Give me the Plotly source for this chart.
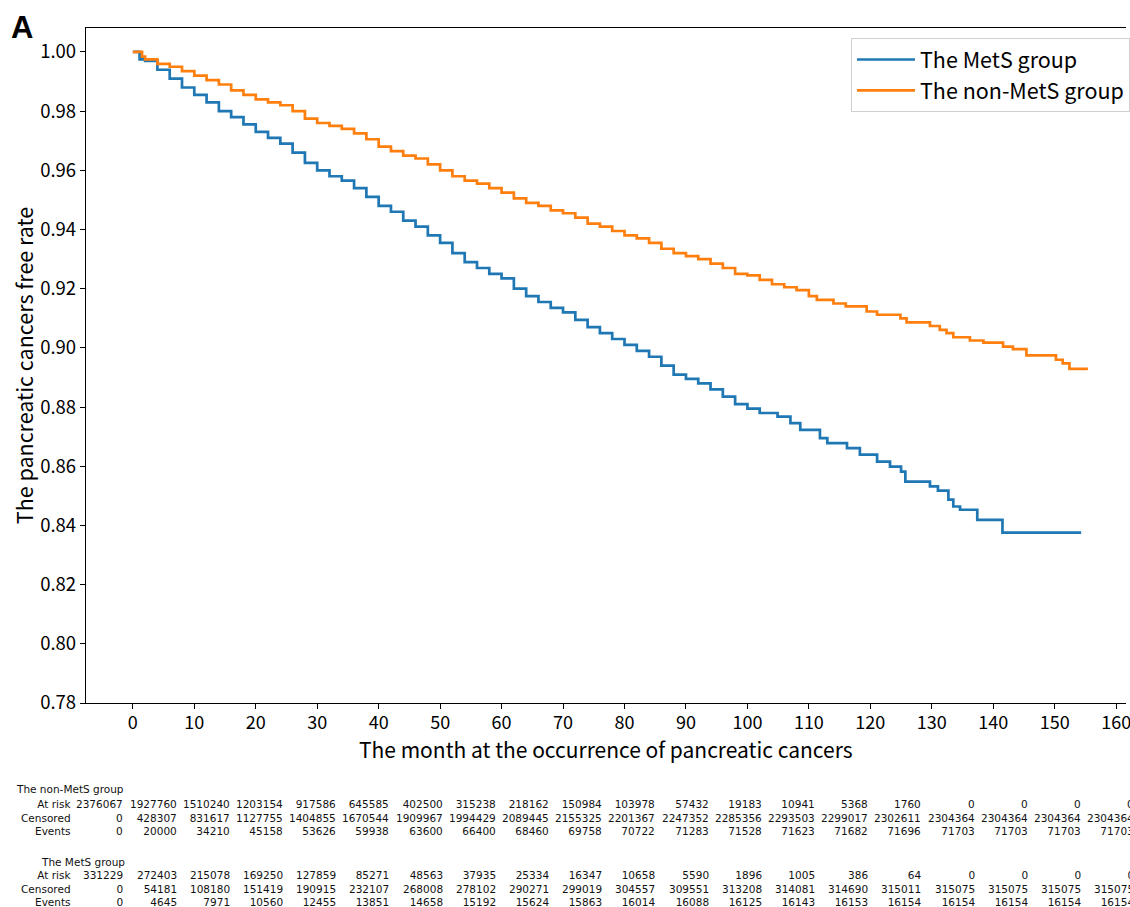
import plotly.graph_objects as go

# ---------------- data ----------------
mets_t = [0, 1.1, 2, 4, 6, 8, 10, 12, 14, 16, 18, 20, 22, 24, 26, 28, 30, 32, 34, 36, 38,
          40, 42, 44, 46, 48, 50, 52, 54, 56, 58, 60, 62, 64, 66, 68, 70, 72, 74, 76, 78,
          80, 82, 84, 86, 88, 90, 92, 94, 96, 98, 100, 102, 104.9, 107.0, 108.6, 111.8,
          113.0, 116.2, 118.3, 121.1, 123.2, 125.0, 125.7, 129.7, 131.0, 132.7, 133.5,
          134.6, 137.4, 141.5, 154.3]
mets_s = [1.0, 0.9975, 0.997, 0.994, 0.991, 0.988, 0.9855, 0.983, 0.980, 0.978, 0.9755,
          0.973, 0.971, 0.969, 0.966, 0.9625, 0.960, 0.958, 0.9565, 0.954, 0.951, 0.948,
          0.946, 0.943, 0.941, 0.938, 0.9355, 0.932, 0.929, 0.927, 0.925, 0.9235, 0.920,
          0.9175, 0.9155, 0.9135, 0.912, 0.9095, 0.907, 0.905, 0.903, 0.901, 0.899, 0.897,
          0.894, 0.891, 0.8895, 0.888, 0.886, 0.8835, 0.881, 0.8795, 0.878, 0.8768, 0.8746,
          0.8723, 0.8695, 0.8678, 0.8661, 0.8639, 0.8616, 0.8599, 0.8582, 0.8548, 0.8532,
          0.8518, 0.8487, 0.8464, 0.8453, 0.8419, 0.8376, 0.8376]

non_t = [0, 1.5, 2, 4, 6, 8, 10, 12, 14, 16, 18, 20, 22, 24, 26, 28, 30, 32, 34, 36, 38,
         40, 42, 44, 46, 48, 50, 52, 54, 56, 58, 60, 62, 64, 66, 68, 70, 72, 74, 76, 78,
         80, 82, 84, 86, 88, 90, 92, 94, 96, 98, 100, 102, 104, 106, 108, 110, 111.3, 114,
         116, 119.4, 121.1, 124.9, 125.9, 129.7, 131.3, 132.4, 133.5, 136.2, 138.4, 141.6,
         143.2, 145.4, 150.2, 151.3, 152.4, 155.4]
non_s = [1.0, 0.9984, 0.9975, 0.996, 0.995, 0.9935, 0.992, 0.9905, 0.989, 0.987, 0.9855,
         0.984, 0.983, 0.982, 0.980, 0.9775, 0.976, 0.975, 0.974, 0.9725, 0.9705, 0.968,
         0.9665, 0.965, 0.964, 0.962, 0.960, 0.958, 0.9565, 0.9555, 0.954, 0.9525, 0.9505,
         0.949, 0.948, 0.9465, 0.9455, 0.944, 0.942, 0.941, 0.9395, 0.938, 0.937, 0.9355,
         0.9335, 0.932, 0.931, 0.930, 0.9285, 0.927, 0.925, 0.9245, 0.923, 0.9215, 0.9205,
         0.9195, 0.9175, 0.9162, 0.915, 0.914, 0.9123, 0.9112, 0.910, 0.9086, 0.9074,
         0.9061, 0.905, 0.9036, 0.9025, 0.9018, 0.9004, 0.8996, 0.8975, 0.896, 0.8948,
         0.8929, 0.8929]

# at-risk table
non_at_risk = [2376067, 1927760, 1510240, 1203154, 917586, 645585, 402500, 315238, 218162,
               150984, 103978, 57432, 19183, 10941, 5368, 1760, 0, 0, 0, 0]
non_censored = [0, 428307, 831617, 1127755, 1404855, 1670544, 1909967, 1994429, 2089445,
                2155325, 2201367, 2247352, 2285356, 2293503, 2299017, 2302611, 2304364,
                2304364, 2304364, 2304364]
non_events = [0, 20000, 34210, 45158, 53626, 59938, 63600, 66400, 68460, 69758, 70722,
              71283, 71528, 71623, 71682, 71696, 71703, 71703, 71703, 71703]

mets_at_risk = [331229, 272403, 215078, 169250, 127859, 85271, 48563, 37935, 25334, 16347,
                10658, 5590, 1896, 1005, 386, 64, 0, 0, 0, 0]
mets_censored = [0, 54181, 108180, 151419, 190915, 232107, 268008, 278102, 290271, 299019,
                 304557, 309551, 313208, 314081, 314690, 315011, 315075, 315075, 315075,
                 315075]
mets_events = [0, 4645, 7971, 10560, 12455, 13851, 14658, 15192, 15624, 15863, 16014,
               16088, 16125, 16143, 16153, 16154, 16154, 16154, 16154, 16154]

row_labels = ["At risk", "Censored", "Events"]
x_ticks = list(range(0, 161, 10))
y_ticks = [0.78, 0.80, 0.82, 0.84, 0.86, 0.88, 0.90, 0.92, 0.94, 0.96, 0.98, 1.00]

# ---------------- layout geometry ----------------
W, H = 1130, 907
L, R, T, B = 86, 1130, 28, 703
FONT = "Noto Sans CJK JP"
TFONT = "DejaVu Sans"


def px(x):
    return (x - L) / (R - L)


def py(y):
    return (B - y) / (B - T)


fig = go.Figure()
fig.add_trace(go.Scatter(x=mets_t, y=mets_s, mode="lines", name="The MetS group",
                         line=dict(color="#1f77b4", width=2.7, shape="hv"),
                         legendgroup="a"))
fig.add_trace(go.Scatter(x=non_t, y=non_s, mode="lines", name="The non-MetS group",
                         line=dict(color="#ff7f0e", width=2.7, shape="hv"),
                         legendgroup="b"))

annotations = []
annotations.append(dict(text="<b>A</b>", x=px(9), y=py(27), xref="paper", yref="paper",
                        xanchor="left", yanchor="middle", showarrow=False,
                        font=dict(size=31, family="Liberation Sans", color="black")))
annotations.append(dict(text="The month at the occurrence of pancreatic cancers",
                        x=0.5, y=py(748.5), xref="paper", yref="paper",
                        xanchor="center", yanchor="middle", showarrow=False, borderpad=0,
                        font=dict(size=21, family=FONT, color="black")))

TF = dict(size=10.5, family=TFONT, color="#111111")
col_right = [124.6 + k * 53.4 for k in range(20)]


def add_block(title, title_x, y_title, y_mid, rows):
    annotations.append(dict(text=title, x=px(title_x), y=py(y_title), xref="paper",
                            yref="paper", xanchor="left", yanchor="middle",
                            showarrow=False, font=TF, borderpad=0))
    annotations.append(dict(text="<br>".join(row_labels), x=px(72), y=py(y_mid),
                            xref="paper", yref="paper", xanchor="right", yanchor="middle",
                            align="right", showarrow=False, font=TF, borderpad=0))
    for k in range(len(rows[0])):
        txt = "<br>".join(str(r[k]) for r in rows)
        annotations.append(dict(text=txt, x=px(col_right[k]), y=py(y_mid), xref="paper",
                                yref="paper", xanchor="right", yanchor="middle",
                                align="right", showarrow=False, font=TF, borderpad=0))


add_block("The non-MetS group", 15, 788.5, 817,
          [non_at_risk, non_censored, non_events])
add_block("The MetS group", 40, 862, 888.5,
          [mets_at_risk, mets_censored, mets_events])

fig.update_layout(
    width=W, height=H,
    margin=dict(l=L, r=W - R, t=T, b=H - B, pad=0),
    paper_bgcolor="white", plot_bgcolor="white",
    font=dict(family=FONT, color="black", size=18),
    showlegend=True,
    legend=dict(x=px(1134), y=py(38), xanchor="right", yanchor="top",
                bgcolor="white", bordercolor="#d0d0d0", borderwidth=1,
                font=dict(size=21.5, family=FONT), tracegroupgap=0,
                itemwidth=58),
    annotations=annotations,
)
fig.update_xaxes(range=[-7.62, 161.6], tickmode="array", tickvals=x_ticks,
                 ticktext=[str(v) for v in x_ticks], ticklabeloverflow="allow",
                 ticklabelstandoff=-2,
                 showgrid=False, zeroline=False, showline=True, linecolor="black",
                 linewidth=1.3, mirror=True, ticks="outside", ticklen=5, tickwidth=1.2,
                 tickcolor="black", tickfont=dict(size=18))
fig.update_yaxes(range=[0.78, 1.0081], tickmode="array", tickvals=y_ticks,
                 ticktext=["%.2f" % v for v in y_ticks],
                 showgrid=False, zeroline=False, showline=True, linecolor="black",
                 linewidth=1.3, mirror=False, ticks="outside", ticklen=5, tickwidth=1.2,
                 tickcolor="black", tickfont=dict(size=18.5),
                 title=dict(text="The pancreatic cancers free rate", font=dict(size=21.5),
                            standoff=0))

fig.write_html("out.html")
